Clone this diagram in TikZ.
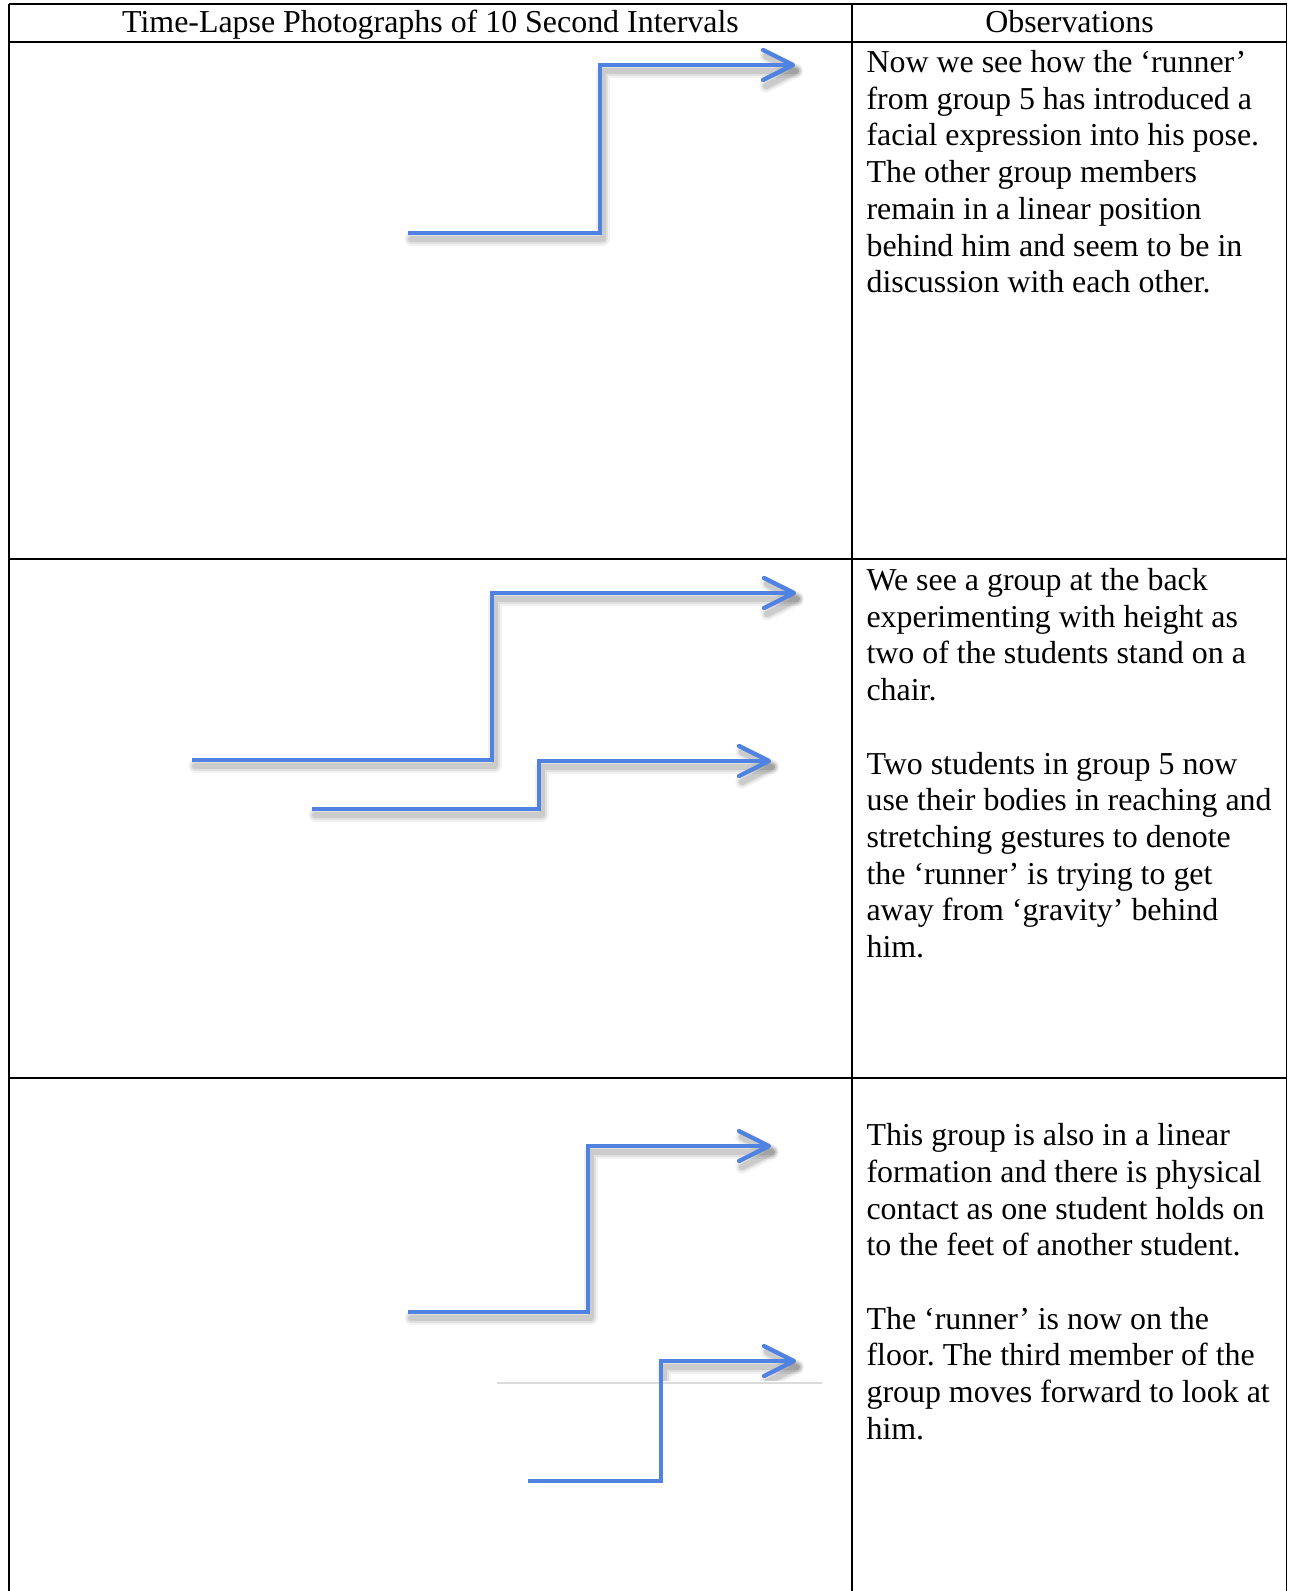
\documentclass[tikz,border=0pt]{standalone}
\usepackage{fontspec}
\setmainfont{Liberation Serif}
\definecolor{arrowblue}{RGB}{80,130,226}
\newcommand{\stairarrow}[2]{%
  \begin{scope}[shift={(3,6)}]
    \draw[shadeA] #1; \draw[shadeA] #2;
    \draw[shadeB] #1; \draw[shadeB] #2;
    \draw[shadeC] #1; \draw[shadeC] #2;
  \end{scope}
  \draw[bluestroke] #1;
  \draw[bluehead] #2;
}
\begin{document}
\frenchspacing
\begin{tikzpicture}[x=0.376pt,y=-0.376pt,
  hline/.style={line width=0.8pt},
  vline/.style={line width=0.45pt},
  txt/.style={inner sep=0pt, font=\fontsize{12}{13.8}\selectfont\frenchspacing, align=left, anchor=north west},
  hdr/.style={inner sep=0pt, font=\fontsize{12}{13.8}\selectfont, anchor=base},
  bluestroke/.style={draw=arrowblue, line width=1.6pt, line cap=butt, line join=miter},
  bluehead/.style={draw=arrowblue, line width=1.6pt, line cap=round, line join=round},
  shadeA/.style={draw=black, draw opacity=0.05, line width=5pt, line cap=round, line join=round},
  shadeB/.style={draw=black, draw opacity=0.07, line width=3.6pt, line cap=round, line join=round},
  shadeC/.style={draw=black, draw opacity=0.09, line width=2.3pt, line cap=round, line join=round},
  faint/.style={draw=black!14, line width=0.5pt}
]
\useasboundingbox (0,0) rectangle (1288,1591);
\fill[white] (0,0) rectangle (1288,1591);

% table rules
\draw[hline] (9,4) -- (1286.5,4);
\draw[hline] (9,42) -- (1286.5,42);
\draw[hline] (9,559) -- (1286.5,559);
\draw[hline] (9,1078) -- (1286.5,1078);
\draw[vline] (9,3.6) -- (9,1591);
\draw[vline] (852,3.6) -- (852,1591);
\draw[vline] (1286.5,3.6) -- (1286.5,1591);

% headers
\node[hdr] (hdrA) at (430.5,33) {Time-Lapse Photographs of 10 Second Intervals};
\node[hdr] (hdrB) at (1069.5,33) {Observations};

% observations
\node[txt] (obsA) at (866,46.3) {\strut Now we see how the ‘runner’\\
from group 5 has introduced a\\
facial expression into his pose.\\
The other group members\\
remain in a linear position\\
behind him and seem to be in\\
discussion with each other.};

\node[txt] (obsB) at (866,564.3) {\strut We see a group at the back\\
experimenting with height as\\
two of the students stand on a\\
chair.\\
\strut\\
Two students in group 5 now\\
use their bodies in reaching and\\
stretching gestures to denote\\
the ‘runner’ is trying to get\\
away from ‘gravity’ behind\\
him.};

\node[txt] (obsC) at (866,1119.5) {\strut This group is also in a linear\\
formation and there is physical\\
contact as one student holds on\\
to the feet of another student.\\
\strut\\
The ‘runner’ is now on the\\
floor. The third member of the\\
group moves forward to look at\\
him.};

% stair arrows
\stairarrow{(408,233) -- (600,233) -- (600,65) -- (793,65)}{(763,50) -- (793,65) -- (763,80)}
\stairarrow{(192,760) -- (492,760) -- (492,593) -- (794,593)}{(764,578) -- (794,593) -- (764,608)}
\stairarrow{(312,809) -- (539,809) -- (539,761) -- (769,761)}{(739,746) -- (769,761) -- (739,776)}
\stairarrow{(408,1312) -- (588,1312) -- (588,1146) -- (769,1146)}{(739,1131) -- (769,1146) -- (739,1161)}

% last arrow: shadow only above the faint edge
\begin{scope}[shift={(3,6)}]
  \draw[shadeA] (661,1376) -- (661,1361) -- (794,1361); \draw[shadeA] (764,1346) -- (794,1361) -- (764,1376);
  \draw[shadeB] (661,1376) -- (661,1361) -- (794,1361); \draw[shadeB] (764,1346) -- (794,1361) -- (764,1376);
  \draw[shadeC] (661,1376) -- (661,1361) -- (794,1361); \draw[shadeC] (764,1346) -- (794,1361) -- (764,1376);
\end{scope}
\fill[white] (490,1381) rectangle (830,1480);
\draw[faint] (497,1383) -- (822,1383);
\draw[bluestroke] (528,1481) -- (661,1481) -- (661,1361) -- (794,1361);
\draw[bluehead] (764,1346) -- (794,1361) -- (764,1376);
\end{tikzpicture}
\end{document}
